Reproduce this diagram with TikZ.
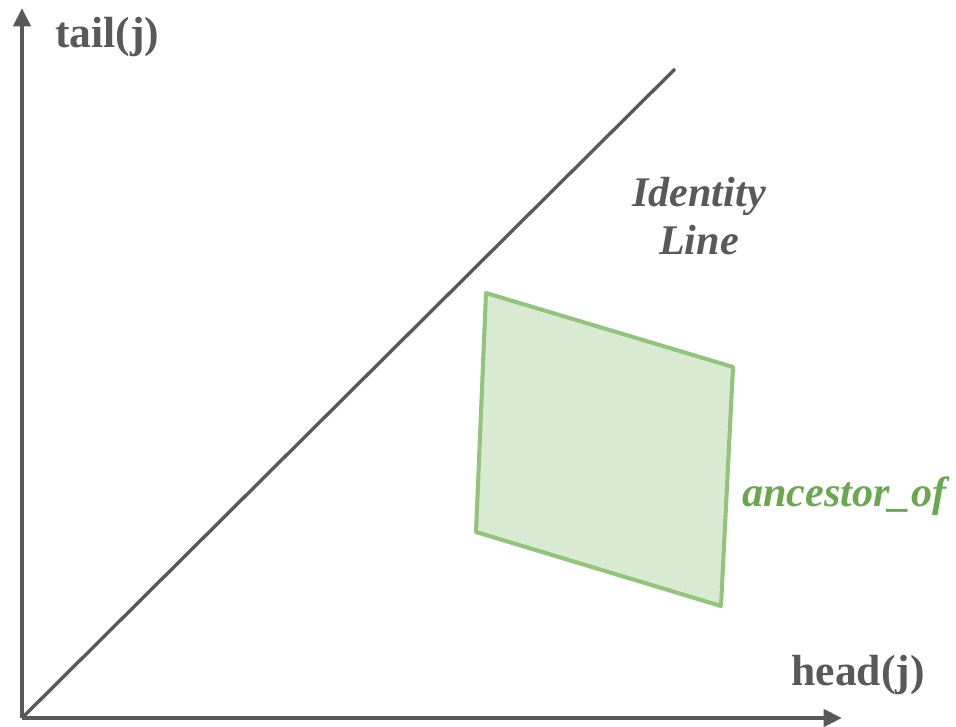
\documentclass[tikz,border=0pt]{standalone}
\usepackage{fontspec}
\setmainfont{Liberation Serif}
\definecolor{axisGray}{HTML}{595959}
\definecolor{regionEdge}{HTML}{93C47D}
\definecolor{regionFill}{HTML}{D9EAD3}
\definecolor{regionText}{HTML}{6AA84F}
\usetikzlibrary{positioning,arrows.meta}

\begin{document}
\begin{tikzpicture}[x=0.025cm, y=-0.025cm,
  axis/.style={draw=axisGray, line width=2.9pt, -{Triangle[length=13pt,width=12pt]}},
  axislabel/.style={text=axisGray, font=\fontsize{31}{36}\selectfont\bfseries, inner sep=0pt},
  notelabel/.style={font=\fontsize{30}{34}\selectfont\bfseries\itshape, inner sep=0pt, align=center}]
\useasboundingbox (0,0) rectangle (956,726);
\coordinate (origin) at (22,718);
\coordinate (ytop) at (22,8);
\coordinate (xend) at (842,718);
\coordinate (idend) at (675,69);
% axes and identity line
\draw[axis] (origin) -- (ytop);
\draw[axis] (origin) -- (xend);
\draw[axisGray, line width=2.4pt] (origin) -- (idend);
\node[axislabel, anchor=base west] (tail) at (55,47) {tail(j)};
\node[axislabel, anchor=base east] (head) at (925,685) {head(j)};
\node[notelabel, text=axisGray] (identity) at (699,216) {Identity\\Line};
% region
\draw[draw=regionEdge, fill=regionFill, line width=2.9pt, line join=round]
  (486,293) -- (733,367) -- (721,606) -- (476,532) -- cycle;
\node[notelabel, text=regionText, anchor=base west] (ancestor) at (742,506) {ancestor\_of};
\end{tikzpicture}
\end{document}
